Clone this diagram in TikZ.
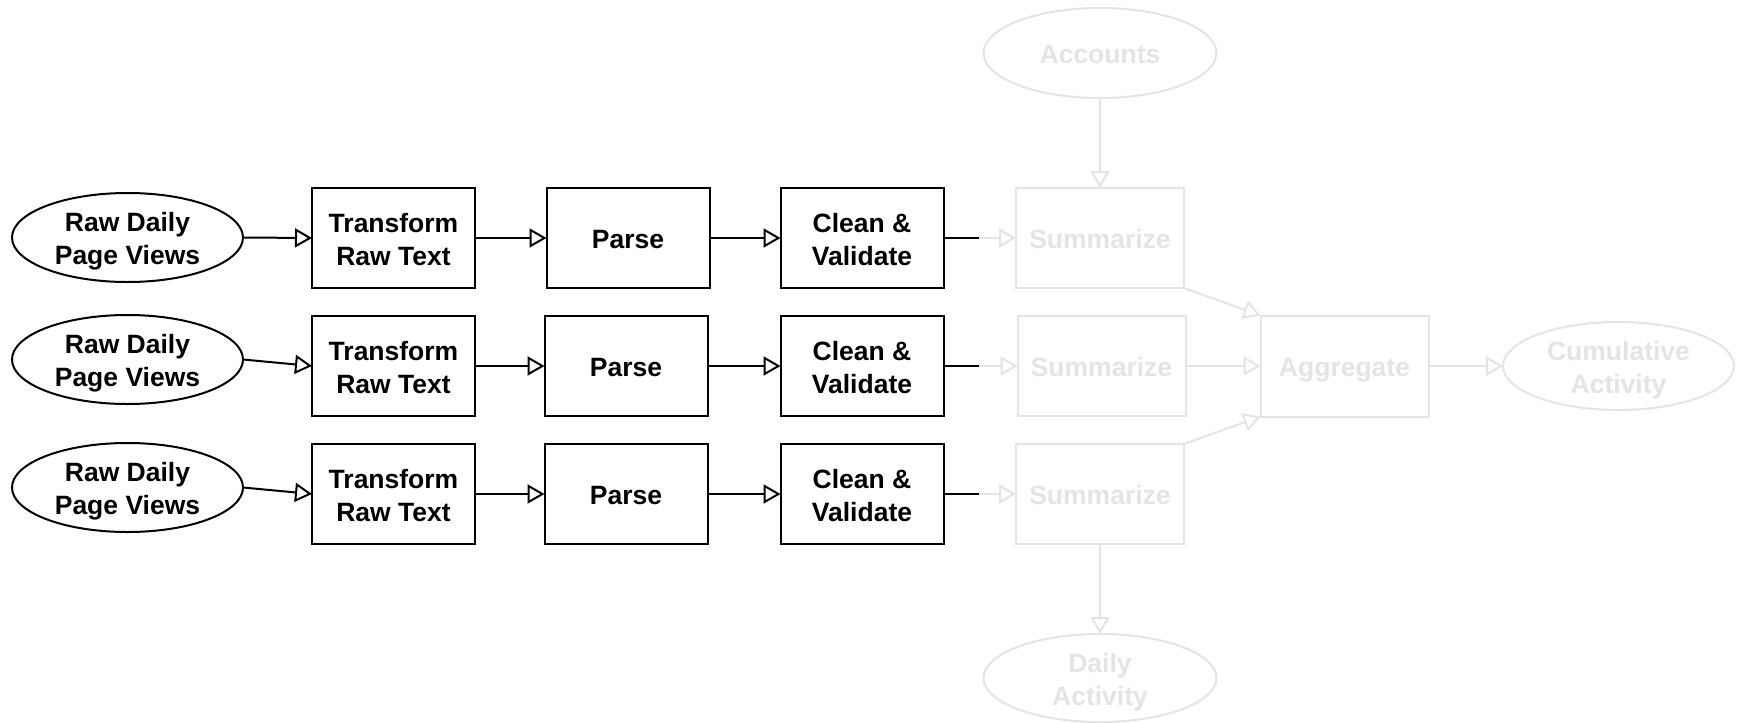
\documentclass[tikz,border=0pt]{standalone}
\usepackage{fontspec}
\setmainfont{Liberation Sans}
\usetikzlibrary{arrows.meta,shapes.geometric}
\definecolor{faded}{RGB}{228,228,228}
% fixed line box (27pt above, 6pt below the baseline) for every label line
\newcommand{\lnstrut}{\rule[-6pt]{0pt}{33pt}}
\begin{document}
\begin{tikzpicture}[x=1pt,y=-1pt,
  base/.style={draw, line width=2pt, inner sep=0pt, outer sep=0pt, align=center,
    font=\fontsize{26.5}{33}\selectfont\bfseries},
  stage/.style={base, rectangle, minimum width=163pt, minimum height=100pt},
  source/.style={base, ellipse, inner ysep=-6pt, minimum width=231pt, minimum height=89pt},
  dim/.style={draw=faded, text=faded},
  flow/.style={line width=2pt, -{Triangle[open, length=17pt, width=19pt, fill=white]}},
  dimflow/.style={flow, draw=faded}]
\useasboundingbox (0,0) rectangle (1741,723);

% three parallel ingest pipelines
\foreach \r/\ye/\yb/\xp in {1/237.5/238/628, 2/359.5/366/626, 3/487.5/494/626} {
  \node[source] (e\r) at (127.5,\ye) {\lnstrut Raw Daily\\\lnstrut Page Views};
  \node[stage] (t\r) at (393.5,\yb) {\lnstrut Transform\\\lnstrut Raw Text};
  \node[stage] (p\r) at (\xp,\yb) {\lnstrut Parse};
  \node[stage] (c\r) at (862,\yb) {\lnstrut Clean \&\\\lnstrut Validate};
  \coordinate (k\r) at (979,\yb);
  \draw[flow] (e\r.east) -- (t\r.west);
  \draw[flow] (t\r.east) -- (p\r.west);
  \draw[flow] (p\r.east) -- (c\r.west);
  \draw[line width=2pt] (c\r.east) -- (k\r);
}

% downstream stages
\node[stage, dim, minimum width=168pt] (s1) at (1100,238) {\lnstrut Summarize};
\node[stage, dim, minimum width=168pt] (s2) at (1101.5,366) {\lnstrut Summarize};
\node[stage, dim, minimum width=168pt] (s3) at (1100,494) {\lnstrut Summarize};
\node[stage, dim, minimum width=168pt, minimum height=101pt] (agg) at (1344.5,366) {\lnstrut Aggregate};
\node[source, dim, minimum width=231pt, minimum height=88pt] (cum) at (1618.5,366) {\lnstrut Cumulative\\\lnstrut Activity};
\node[source, dim, minimum width=233pt, minimum height=90pt] (acc) at (1100,53) {\lnstrut Accounts};
\node[source, dim, minimum width=233pt, minimum height=88pt] (daily) at (1100,678) {\lnstrut Daily\\\lnstrut Activity};

\draw[dimflow] (k1) -- (s1.west);
\draw[dimflow] (k2) -- (s2.west);
\draw[dimflow] (k3) -- (s3.west);
\draw[dimflow] (acc.south) -- (s1.north);
\draw[dimflow] (s1.south east) -- (agg.north west);
\draw[dimflow] (s2.east) -- (agg.west);
\draw[dimflow] (s3.north east) -- (agg.south west);
\draw[dimflow] (agg.east) -- (cum.west);
\draw[dimflow] (s3.south) -- (daily.north);
\end{tikzpicture}
\end{document}
